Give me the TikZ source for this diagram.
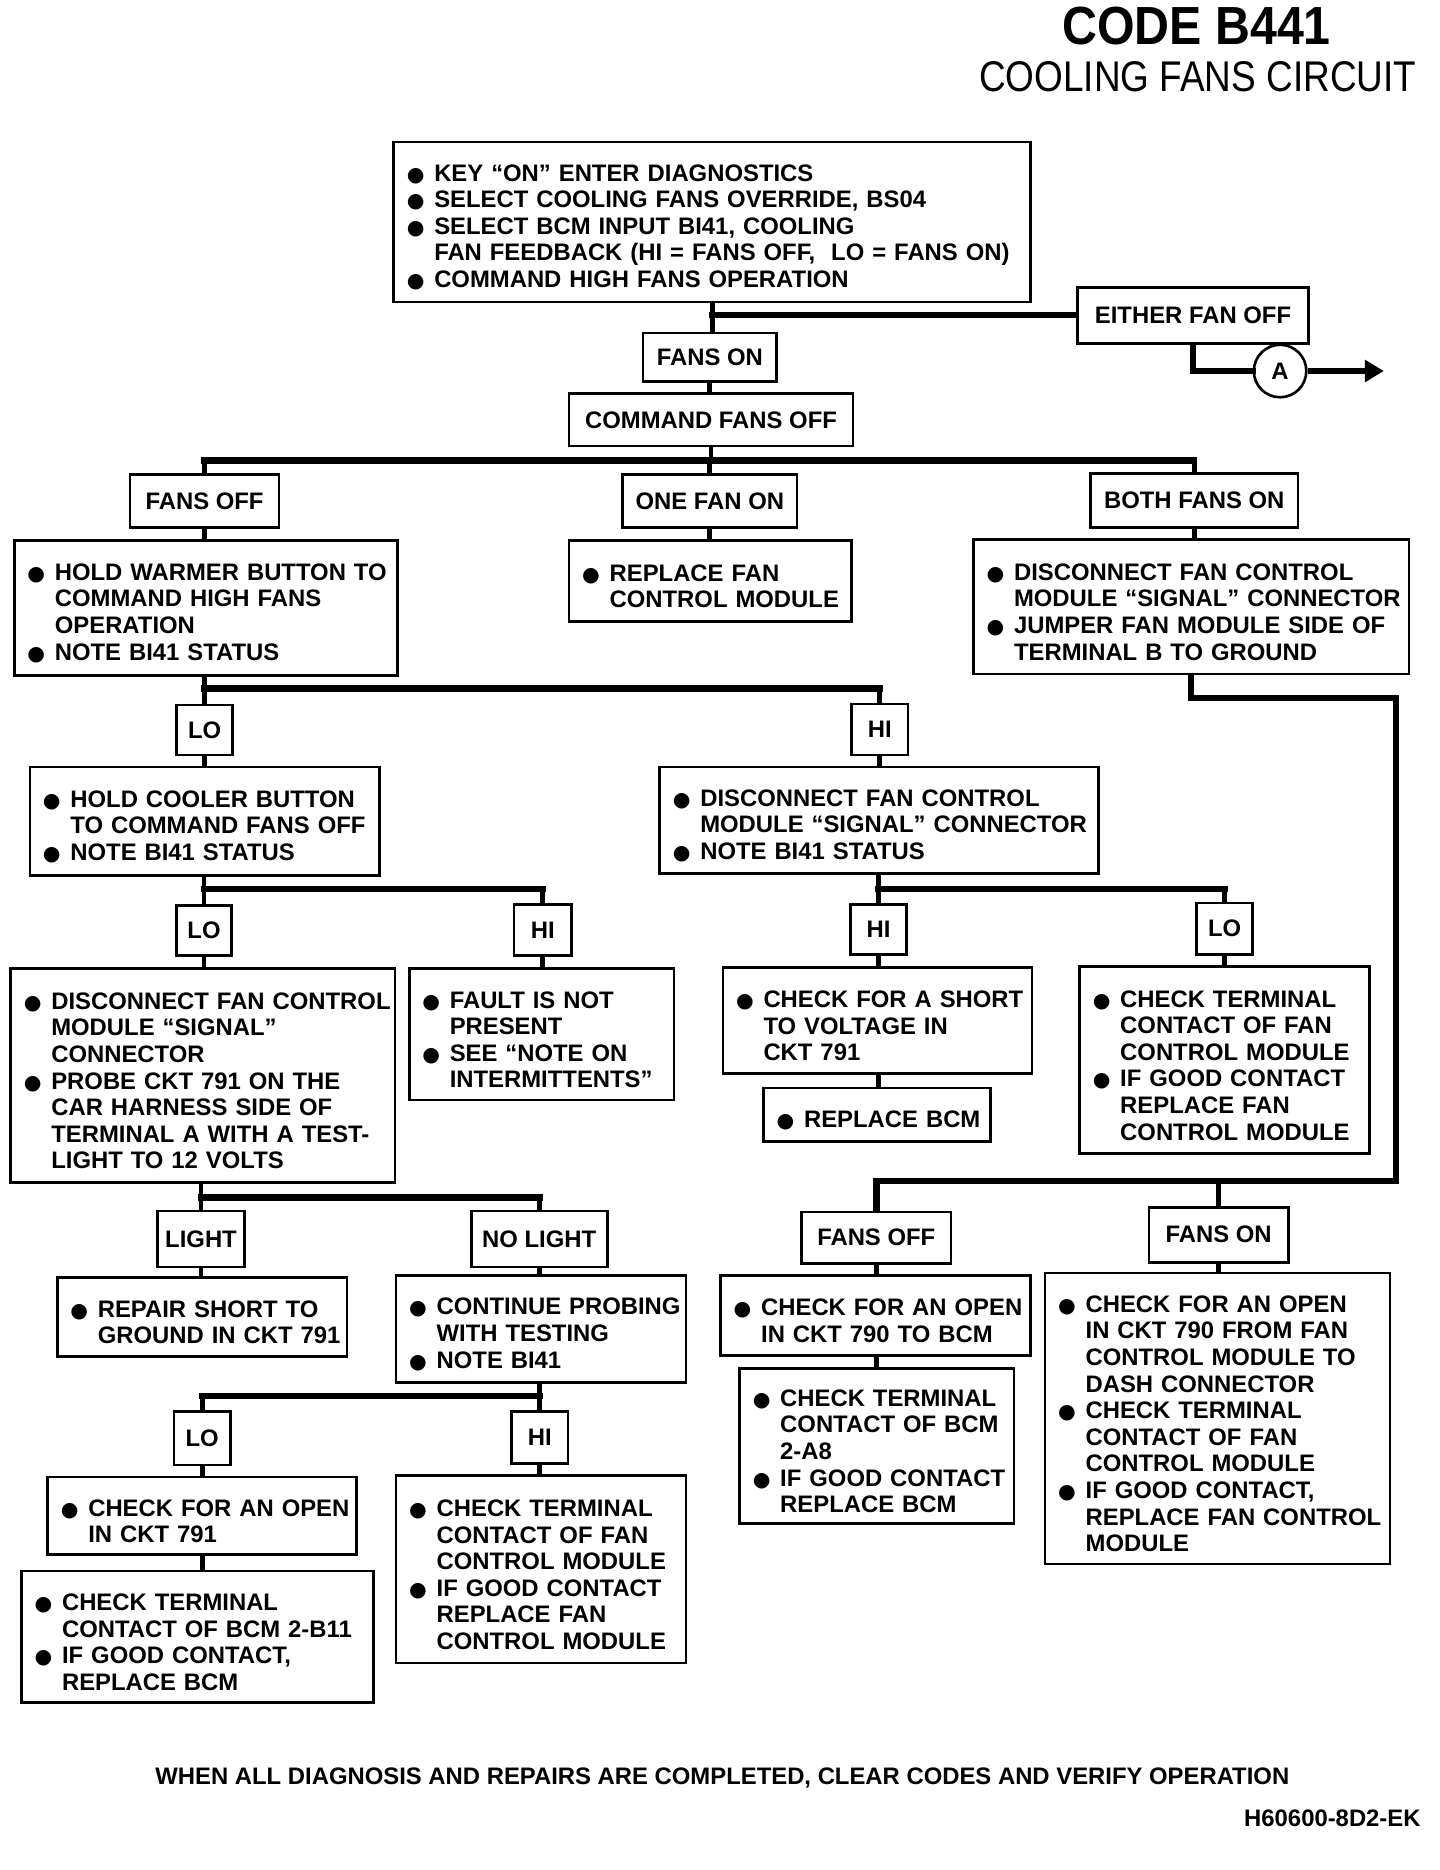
\documentclass[tikz,border=0pt]{standalone}
\usepackage{fontspec}
\usepackage{graphicx}
\setmainfont{Liberation Sans}
\newfontfamily\symf{DejaVu Sans}
\usetikzlibrary{arrows.meta,calc}
\newlength\bw \setlength\bw{22pt}
\newcommand\bul{\makebox[\bw][l]{\hspace*{-1pt}{\symf\fontsize{17}{17}\selectfont ●}}}
\newcommand\bi[1]{\mbox{\bul #1}}
\newcommand\ci[1]{\mbox{\hspace*{\bw}#1}}
\tikzset{
  txt/.style={font=\fontsize{20}{22.3}\selectfont\bfseries, inner sep=0pt},
  listbox/.style={draw, line width=2.2pt, inner xsep=12pt, inner ysep=0pt, align=left,
     font=\fontsize{20}{22.3}\selectfont\bfseries},
  labbox/.style={draw, line width=2.2pt, inner sep=0pt, align=center,
     font=\fontsize{20}{22.3}\selectfont\bfseries},
  stub/.style={line width=4pt},
  bar/.style={line width=5.5pt, line cap=rect},
}
\newcommand\bbox[6]{%
  \pgfmathsetlengthmacro\bbw{#4-#2}%
  \pgfmathsetlengthmacro\bbh{#5-#3}%
  \pgfmathsetlengthmacro\bbt{#4-#2-24}%
  \node[listbox, minimum width=\bbw, minimum height=\bbh, text width=\bbt] (#1) at ({(#2+#4)/2},{(#3+#5)/2}) {\rule{0pt}{23pt}#6};}
\newcommand\lbox[6]{%
  \pgfmathsetlengthmacro\bbw{#4-#2}%
  \pgfmathsetlengthmacro\bbh{#5-#3}%
  \node[labbox, minimum width=\bbw, minimum height=\bbh] (#1) at ({(#2+#4)/2},{(#3+#5)/2}) {#6};}
\begin{document}
\begin{tikzpicture}[x=1pt,y=-1pt]
\fill[white] (0,0) rectangle (1207,1567.5);
\useasboundingbox (0,0) rectangle (1207,1567.5);
% titles
\node[inner sep=0pt] (title) at (1003,22) {\scalebox{0.9}[1]{\fontsize{45}{45}\selectfont\bfseries CODE B441}};
\node[inner sep=0pt] (subtitle) at (1004,64) {\scalebox{0.86}[1]{\fontsize{36}{36}\selectfont COOLING FANS CIRCUIT}};
% boxes
\bbox{t1}{330}{119}{864}{253}{\bi{KEY “ON” ENTER DIAGNOSTICS}\\\bi{SELECT COOLING FANS OVERRIDE, BS04}\\\bi{SELECT BCM INPUT BI41, COOLING}\\\ci{FAN FEEDBACK (HI = FANS OFF,\ \ LO = FANS ON)}\\\bi{COMMAND HIGH FANS OPERATION}}
\lbox{either}{903}{241}{1097}{288}{EITHER FAN OFF}
\lbox{fanson}{539}{279}{651}{320}{FANS ON}
\lbox{cfo}{477}{330}{715}{374}{COMMAND FANS OFF}
\lbox{fo1}{109}{398}{234}{442}{FANS OFF}
\lbox{one}{522}{398}{668}{442}{ONE FAN ON}
\lbox{both}{914}{397}{1088}{442}{BOTH FANS ON}
\bbox{l1}{12}{453}{333}{566}{\bi{HOLD WARMER BUTTON TO}\\\ci{COMMAND HIGH FANS}\\\ci{OPERATION}\\\bi{NOTE BI41 STATUS}}
\bbox{m1}{477}{453}{714}{521}{\bi{REPLACE FAN}\\\ci{CONTROL MODULE}}
\bbox{r1}{816}{452}{1181}{565}{\bi{DISCONNECT FAN CONTROL}\\\ci{MODULE “SIGNAL” CONNECTOR}\\\bi{JUMPER FAN MODULE SIDE OF}\\\ci{TERMINAL B TO GROUND}}
\lbox{lo1}{148}{591}{195}{633}{LO}
\lbox{hi1}{714}{590}{761}{633}{HI}
\bbox{cool}{25}{643}{318}{734}{\bi{HOLD COOLER BUTTON}\\\ci{TO COMMAND FANS OFF}\\\bi{NOTE BI41 STATUS}}
\bbox{disc}{553}{643}{921}{732}{\bi{DISCONNECT FAN CONTROL}\\\ci{MODULE “SIGNAL” CONNECTOR}\\\bi{NOTE BI41 STATUS}}
\lbox{lo2}{148}{759}{194}{801}{LO}
\lbox{hi2}{431}{758}{479}{801}{HI}
\lbox{hi3}{713}{758}{760}{800}{HI}
\lbox{lo3}{1003}{757}{1050}{800}{LO}
\bbox{probe}{9}{812}{331}{991}{\bi{DISCONNECT FAN CONTROL}\\\ci{MODULE “SIGNAL”}\\\ci{CONNECTOR}\\\bi{PROBE CKT 791 ON THE}\\\ci{CAR HARNESS SIDE OF}\\\ci{TERMINAL A WITH A TEST-}\\\ci{LIGHT TO 12 VOLTS}}
\bbox{fault}{343}{812}{565}{922}{\bi{FAULT IS NOT}\\\ci{PRESENT}\\\bi{SEE “NOTE ON}\\\ci{INTERMITTENTS”}}
\bbox{short}{606}{811}{865}{900}{\bi{CHECK FOR A SHORT}\\\ci{TO VOLTAGE IN}\\\ci{CKT 791}}
\bbox{rbcm}{640}{912}{830}{957}{\bi{REPLACE BCM}}
\bbox{cterm}{905}{810}{1148}{967}{\bi{CHECK TERMINAL}\\\ci{CONTACT OF FAN}\\\ci{CONTROL MODULE}\\\bi{IF GOOD CONTACT}\\\ci{REPLACE FAN}\\\ci{CONTROL MODULE}}
\lbox{light}{132}{1015}{205}{1062}{LIGHT}
\lbox{nolight}{395}{1015}{509}{1062}{NO LIGHT}
\lbox{fo2}{672}{1016}{797}{1059}{FANS OFF}
\lbox{fon2}{963}{1012}{1080}{1058}{FANS ON}
\bbox{repair}{48}{1071}{291}{1137}{\bi{REPAIR SHORT TO}\\\ci{GROUND IN CKT 791}}
\bbox{cont}{332}{1069}{575}{1159}{\bi{CONTINUE PROBING}\\\ci{WITH TESTING}\\\bi{NOTE BI41}}
\bbox{open790}{604}{1069}{864}{1136}{\bi{CHECK FOR AN OPEN}\\\ci{IN CKT 790 TO BCM}}
\bbox{a8}{620}{1147}{850}{1277}{\bi{CHECK TERMINAL}\\\ci{CONTACT OF BCM}\\\ci{2-A8}\\\bi{IF GOOD CONTACT}\\\ci{REPLACE BCM}}
\bbox{fonres}{876}{1067}{1165}{1311}{\bi{CHECK FOR AN OPEN}\\\ci{IN CKT 790 FROM FAN}\\\ci{CONTROL MODULE TO}\\\ci{DASH CONNECTOR}\\\bi{CHECK TERMINAL}\\\ci{CONTACT OF FAN}\\\ci{CONTROL MODULE}\\\bi{IF GOOD CONTACT,}\\\ci{REPLACE FAN CONTROL}\\\ci{MODULE}}
\lbox{lo4}{146}{1183}{193}{1228}{LO}
\lbox{hi4}{429}{1183}{476}{1227}{HI}
\bbox{open791}{40}{1238}{299}{1303}{\bi{CHECK FOR AN OPEN}\\\ci{IN CKT 791}}
\bbox{b11}{18}{1317}{313}{1427}{\bi{CHECK TERMINAL}\\\ci{CONTACT OF BCM 2-B11}\\\bi{IF GOOD CONTACT,}\\\ci{REPLACE BCM}}
\bbox{hires}{332}{1237}{575}{1394}{\bi{CHECK TERMINAL}\\\ci{CONTACT OF FAN}\\\ci{CONTROL MODULE}\\\bi{IF GOOD CONTACT}\\\ci{REPLACE FAN}\\\ci{CONTROL MODULE}}
\node[draw, circle, line width=2.2pt, minimum size=44pt, inner sep=0pt, font=\fontsize{20}{22}\selectfont\bfseries] (circA) at (1073,311) {A};
\coordinate (aend) at (1160,311);
% footer
\node[txt] (foot) at (605.5,1490) {WHEN ALL DIAGNOSIS AND REPAIRS ARE COMPLETED, CLEAR CODES AND VERIFY OPERATION};
\node[txt, anchor=east] (code) at (1191,1524) {H60600-8D2-EK};
% connectors
\draw[stub] (t1.south) -- (t1.south |- fanson.north);
\draw[bar] (t1.south |- 0,264) -- (either.west |- 0,264);
\draw[bar] (either.south) |- (circA.west);
\draw[bar, line cap=butt, -{Triangle[length=16pt,width=18pt]}] (circA.east) -- (aend);
\draw[stub] (fanson.south) -- (cfo.north -| fanson.south);
% level: command fans off
\draw[stub] (cfo.south) -- (cfo.south |- 0,386);
\draw[bar] (fo1.north |- 0,386) -- (both.north |- 0,386);
\draw[stub] (fo1.north |- 0,386) -- (fo1.north);
\draw[stub] (one.north |- 0,386) -- (one.north);
\draw[stub] (both.north |- 0,386) -- (both.north);
\draw[stub] (fo1.south) -- (fo1.south |- l1.north);
\draw[stub] (one.south) -- (one.south |- m1.north);
\draw[stub] (both.south) -- (both.south |- r1.north);
% l1 branch
\draw[stub] (lo1.north |- l1.south) -- (lo1.north |- 0,577);
\draw[bar] (lo1.north |- 0,577) -- (hi1.north |- 0,577);
\draw[stub] (lo1.north |- 0,577) -- (lo1.north);
\draw[stub] (hi1.north |- 0,577) -- (hi1.north);
\draw[stub] (lo1.south) -- (lo1.south |- cool.north);
\draw[stub] (hi1.south) -- (hi1.south |- disc.north);
% cool branch
\draw[stub] (lo2.north |- cool.south) -- (lo2.north |- 0,745);
\draw[bar] (lo2.north |- 0,745) -- (hi2.north |- 0,745);
\draw[stub] (lo2.north |- 0,745) -- (lo2.north);
\draw[stub] (hi2.north |- 0,745) -- (hi2.north);
\draw[stub] (lo2.south) -- (lo2.south |- probe.north);
\draw[stub] (hi2.south) -- (hi2.south |- fault.north);
% disc branch
\draw[stub] (hi3.north |- disc.south) -- (hi3.north |- 0,745);
\draw[bar] (hi3.north |- 0,745) -- (lo3.north |- 0,745);
\draw[stub] (hi3.north |- 0,745) -- (hi3.north);
\draw[stub] (lo3.north |- 0,745) -- (lo3.north);
\draw[stub] (hi3.south) -- (hi3.south |- short.north);
\draw[stub] (lo3.south) -- (lo3.south |- cterm.north);
\draw[stub] (hi3.south |- short.south) -- (hi3.south |- rbcm.north);
% probe branch
\draw[stub] (light.north |- probe.south) -- (light.north |- 0,1004);
\draw[bar] (light.north |- 0,1004) -- (nolight.north |- 0,1004);
\draw[stub] (light.north |- 0,1004) -- (light.north);
\draw[stub] (nolight.north |- 0,1004) -- (nolight.north);
\draw[stub] (light.south) -- (light.south |- repair.north);
\draw[stub] (nolight.south) -- (nolight.south |- cont.north);
% right loop from r1
\coordinate (jr1) at (1170,585);
\coordinate (jr2) at (734.5,990);
\draw[bar, line cap=butt] (r1.south) |- (jr1) |- (jr2) -- (fo2.north);
\draw[stub] (fon2.north |- 0,990) -- (fon2.north);
\draw[stub] (fo2.south) -- (fo2.south |- open790.north);
\draw[stub] (fo2.south |- open790.south) -- (fo2.south |- a8.north);
\draw[stub] (fon2.south) -- (fon2.south |- fonres.north);
% cont branch
\draw[stub] (hi4.north |- cont.south) -- (hi4.north |- 0,1170);
\draw[bar] (lo4.north |- 0,1170) -- (hi4.north |- 0,1170);
\draw[stub] (lo4.north |- 0,1170) -- (lo4.north);
\draw[stub] (hi4.north |- 0,1170) -- (hi4.north);
\draw[stub] (lo4.south) -- (lo4.south |- open791.north);
\draw[stub] (lo4.south |- open791.south) -- (lo4.south |- b11.north);
\draw[stub] (hi4.south) -- (hi4.south |- hires.north);
\end{tikzpicture}
\end{document}
